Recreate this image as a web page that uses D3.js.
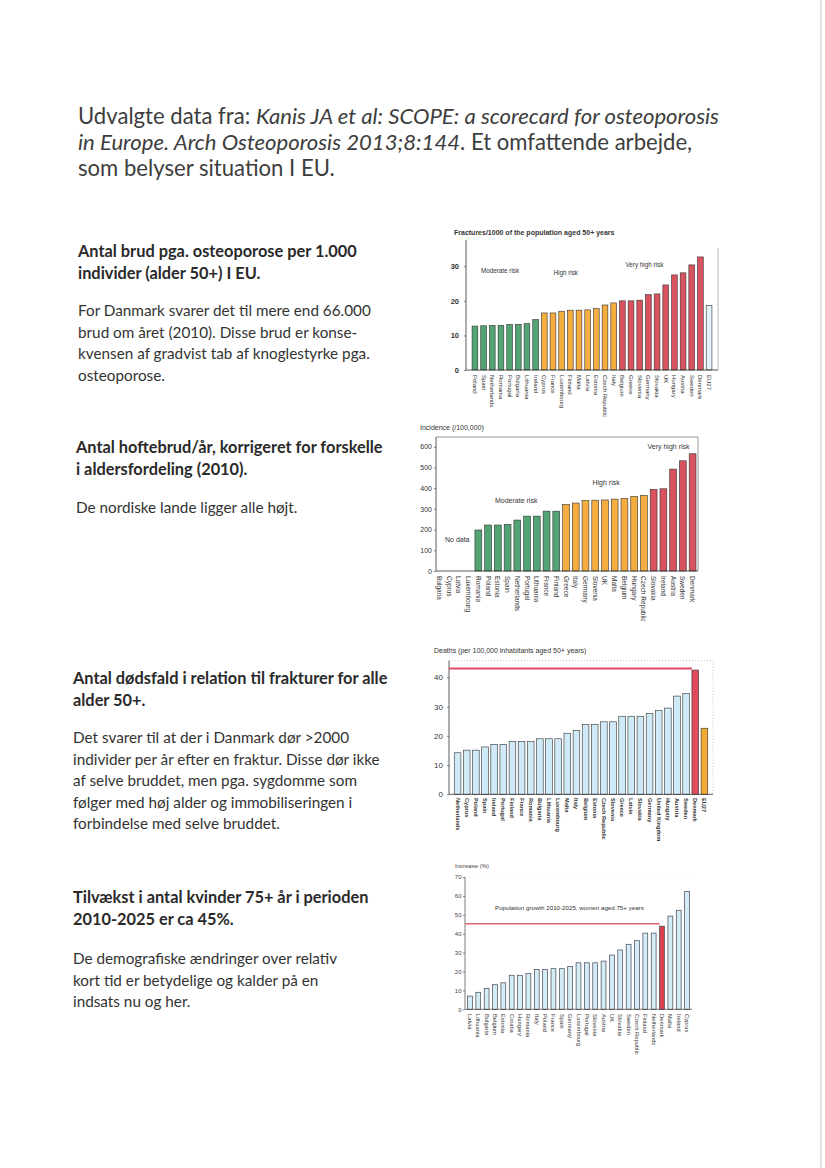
<!DOCTYPE html>
<html><head><meta charset="utf-8">
<script src="https://cdn.jsdelivr.net/npm/d3@7"></script>
<style>body{margin:0;background:#fff}svg{display:block}</style>
</head><body>
<svg id="page" width="825" height="1168"></svg>
<script>
// ---------- DATA ----------
const c1Countries = ["Poland","Spain","Netherlands","Romania","Portugal","Bulgaria","Lithuania","Ireland","Cyprus","France","Luxembourg","Finland","Malta","Latvia","Estonia","Czech Republic","Italy","Belgium","Greece","Slovenia","Germany","Slovakia","UK","Hungary","Austria","Sweden","Denmark","EU27"];
const c1Values = [12.7,12.8,12.9,12.9,13.2,13.2,13.4,14.6,16.5,16.5,17.0,17.3,17.3,17.4,17.8,18.8,19.4,20.0,20.0,20.2,21.8,22.0,24.6,27.5,28.1,30.4,32.7,18.6];
const c1Risk = ["m","m","m","m","m","m","m","m","h","h","h","h","h","h","h","h","h","v","v","v","v","v","v","v","v","v","v","eu"];
const c1Ticks = [0,10,20,30];

const c2Countries = ["Bulgaria","Cyprus","Latvia","Luxembourg","Romania","Poland","Estonia","Spain","Netherlands","Portugal","Lithuania","France","Finland","Greece","Italy","Germany","Slovenia","UK","Malta","Belgium","Hungary","Czech Republic","Slovakia","Ireland","Austria","Sweden","Denmark"];
const c2Values = [null,null,null,null,198,222,222,225,246,265,265,289,289,321,328,341,342,343,347,350,360,365,394,397,492,532,566];
const c2Risk = ["n","n","n","n","m","m","m","m","m","m","m","m","m","h","h","h","h","h","h","h","h","h","v","v","v","v","v"];
const c2Ticks = [0,100,200,300,400,500,600];

const c3Countries = ["Netherlands","Cyprus","Poland","Spain","Ireland","Portugal","Finland","France","Romania","Bulgaria","Lithuania","Luxembourg","Malta","Italy","Belgium","Estonia","Czech Republic","Slovenia","Greece","Latvia","Slovakia","Germany","United Kingdom","Hungary","Austria","Sweden","Denmark","EU27"];
const c3Values = [14.2,15.1,15.1,16.2,17.1,17.1,18.1,18.1,18.1,19.0,19.0,19.0,20.9,21.9,23.9,23.9,24.8,24.8,26.7,26.7,26.7,27.6,28.6,29.5,33.6,34.5,42.5,22.6];
const c3Highlight = {"Denmark":"dk","EU27":"eu"};
const c3RefLine = 43;
const c3Ticks = [0,10,20,30,40];

const c4Countries = ["Latvia","Lithuania","Bulgaria","Belgium","Estonia","Croatia","Hungary","Romania","Italy","Poland","France","Spain","Germany","Luxembourg","Portugal","Slovenia","Austria","UK","Slovakia","Sweden","Czech Republic","Finland","Netherlands","Denmark","Malta","Ireland","Cyprus"];
const c4Values = [7,9,11,13,14,18,18,19,21,21,21.5,21.5,22.7,24.6,24.6,24.6,25.5,28.7,31.4,34.4,36.3,40.3,40.3,44,49.3,52.4,62.3];
const c4RefLine = 45.3;
const c4Ticks = [0,10,20,30,40,50,60,70];

// ---------- PAGE ----------
const svg = d3.select("#page");
svg.append("rect").attr("width",825).attr("height",1168).attr("fill","#fff");
svg.append("line").attr("x1",821).attr("x2",821).attr("y1",0).attr("y2",1168).attr("stroke","#c8c8c8").attr("stroke-width",1);

const TXT = "Lato, 'Open Sans', sans-serif";
const CH = "'Liberation Sans', Arial, sans-serif";

// Heading
const heading = [
  [{t:"Udvalgte data fra: ",i:false},{t:"Kanis JA et al: SCOPE: a scorecard for osteoporosis",i:true}],
  [{t:"in Europe. Arch Osteoporosis 2013;8:144",i:true},{t:". Et omfattende arbejde,",i:false}],
  [{t:"som belyser situation I EU.",i:false}]
];
const headY = [115,141,167];
const headNodes = heading.map((parts,k)=>{
  const t = svg.append("text").attr("x",78).attr("y",headY[k]).attr("dominant-baseline","central")
    .attr("font-family",TXT).attr("font-size",21).attr("fill","#3d3d3d");
  parts.forEach(p=>t.append("tspan").attr("font-style",p.i?"italic":"normal").text(p.t));
  return t;
});
{
  const w = headNodes[0].node().getComputedTextLength();
  const fs = 21*641/w;
  headNodes.forEach(t=>t.attr("font-size",fs));
}

// Left paragraphs
const leftText = [
  {x:78,y:250,b:true,t:"Antal brud pga. osteoporose per 1.000"},
  {x:78,y:272,b:true,t:"individer (alder 50+) I EU."},
  {x:78,y:310,b:false,t:"For Danmark svarer det til mere end 66.000"},
  {x:78,y:332,b:false,t:"brud om året (2010). Disse brud er konse-"},
  {x:78,y:353,b:false,t:"kvensen af gradvist tab af knoglestyrke pga."},
  {x:78,y:375,b:false,t:"osteoporose."},
  {x:76,y:446,b:true,t:"Antal hoftebrud/år, korrigeret for forskelle"},
  {x:76,y:468,b:true,t:"i aldersfordeling (2010)."},
  {x:76,y:507,b:false,t:"De nordiske lande ligger alle højt."},
  {x:73,y:677,b:true,t:"Antal dødsfald i relation til frakturer for alle"},
  {x:73,y:699,b:true,t:"alder 50+."},
  {x:73,y:737,b:false,t:"Det svarer til at der i Danmark dør >2000"},
  {x:73,y:759,b:false,t:"individer per år efter en fraktur. Disse dør ikke"},
  {x:73,y:780,b:false,t:"af selve bruddet, men pga. sygdomme som"},
  {x:73,y:802,b:false,t:"følger med høj alder og immobiliseringen i"},
  {x:73,y:823,b:false,t:"forbindelse med selve bruddet."},
  {x:73,y:896,b:true,t:"Tilvækst i antal kvinder 75+ år i perioden"},
  {x:73,y:918,b:true,t:"2010-2025 er ca 45%."},
  {x:73,y:958,b:false,t:"De demografiske ændringer over relativ"},
  {x:73,y:980,b:false,t:"kort tid er betydelige og kalder på en"},
  {x:73,y:1001,b:false,t:"indsats nu og her."}
];
const leftNodes = leftText.map(d=>svg.append("text").attr("x",d.x).attr("y",d.y)
  .attr("dominant-baseline","central").attr("font-family",TXT).attr("font-size",15)
  .attr("font-weight",d.b?"bold":"normal").attr("fill",d.b?"#2a2a2a":"#333").text(d.t));
{
  const wb = leftNodes[0].node().getComputedTextLength();
  const wr = leftNodes[2].node().getComputedTextLength();
  const fb = 15*279/wb, fr = 15*293/wr;
  leftNodes.forEach((n,i)=>n.attr("font-size",leftText[i].b?fb:fr));
}

// ---------- CHART HELPERS ----------
function drawBars(cfg){
  const g = svg.append("g");
  const x = d3.scaleBand().domain(cfg.cats).range(cfg.xRange).paddingInner(cfg.pIn).paddingOuter(cfg.pOut);
  const y = d3.scaleLinear().domain(cfg.yDomain).range(cfg.yRange);
  const data = cfg.cats.map((c,i)=>({c,v:cfg.vals[i],i}));
  g.selectAll("rect.bar").data(data.filter(d=>d.v!=null)).join("rect").attr("class","bar")
    .attr("x",d=>x(d.c)).attr("width",x.bandwidth())
    .attr("y",d=>y(d.v)).attr("height",d=>y(0)-y(d.v))
    .attr("fill",d=>cfg.fill(d)).attr("stroke",cfg.stroke||"#333").attr("stroke-width",cfg.sw||0.6);
  const ax = g.append("g").attr("transform",`translate(${cfg.axisX},0)`)
    .call(d3.axisLeft(y).tickValues(cfg.ticks).tickSize(cfg.tickSize).tickPadding(cfg.tickPad).tickFormat(d3.format("d")));
  ax.select(".domain").remove();
  ax.selectAll("line").attr("stroke","#333").attr("stroke-width",0.6);
  ax.selectAll("text").attr("font-family",CH).attr("font-size",cfg.tickFont)
    .attr("font-weight",cfg.tickBold?"bold":"normal").attr("fill","#333");
  g.selectAll("text.cat").data(data).join("text").attr("class","cat")
    .attr("transform",d=>`translate(${x(d.c)+x.bandwidth()/2},${cfg.labelY}) rotate(90)`)
    .attr("dominant-baseline","central").attr("font-family",CH).attr("font-size",cfg.labelSize)
    .attr("font-weight",cfg.labelBold?"bold":"normal").attr("fill","#333").text(d=>d.c);
  return {g,x,y};
}
function line(g,x1,y1,x2,y2,stroke,sw,dash){
  const l = g.append("line").attr("x1",x1).attr("y1",y1).attr("x2",x2).attr("y2",y2)
    .attr("stroke",stroke).attr("stroke-width",sw);
  if(dash) l.attr("stroke-dasharray",dash);
  return l;
}
function label(g,x,y,t,size,opts={}){
  return g.append("text").attr("x",x).attr("y",y).attr("dominant-baseline","central")
    .attr("font-family",CH).attr("font-size",size).attr("font-weight",opts.bold?"bold":"normal")
    .attr("text-anchor",opts.anchor||"start").attr("fill",opts.fill||"#333").text(t);
}

const riskColor = {m:"#53a474", h:"#f5ad3f", v:"#d8525f", eu:"#e4f3fa", n:"none"};

// ---------- CHART 1 ----------
{
  const {g,x,y} = drawBars({cats:c1Countries, vals:c1Values, fill:d=>riskColor[c1Risk[d.i]],
    xRange:[466,718], pIn:0.34, pOut:0.7, yDomain:[0,37.6], yRange:[370,240],
    axisX:466, ticks:c1Ticks, tickSize:2, tickPad:5, tickFont:7.5, tickBold:true,
    labelY:375, labelSize:6, labelBold:false});
  line(g,466,240,466,370,"#333",0.8);
  line(g,466,370,718,370,"#333",0.8);
  line(g,718,248,718,370,"#888",0.6);
  label(g,454,232,"Fractures/1000 of the population aged 50+ years",7,{bold:true});
  label(g,481,270,"Moderate risk",6.3);
  label(g,553.5,272,"High risk",6.3);
  label(g,625.5,264,"Very high risk",6.3);
}

// ---------- CHART 2 ----------
{
  const {g,x,y} = drawBars({cats:c2Countries, vals:c2Values, fill:d=>riskColor[c2Risk[d.i]],
    xRange:[436,696], pIn:0.3, pOut:0, yDomain:[0,647], yRange:[571,437],
    axisX:436, ticks:c2Ticks, tickSize:2, tickPad:2, tickFont:7, tickBold:false,
    labelY:576, labelSize:6.5, labelBold:false});
  line(g,436,437,436,571,"#333",0.8);
  line(g,436,571,698,571,"#333",0.8);
  line(g,436,437,698,437,"#555",0.6);
  line(g,698,437,698,571,"#555",0.6);
  label(g,420,427,"Incidence (/100,000)",7);
  label(g,445,539.5,"No data",7);
  label(g,495,500,"Moderate risk",7);
  label(g,592.5,482.5,"High risk",7);
  label(g,647.5,446,"Very high risk",7);
}

// ---------- CHART 3 ----------
{
  const c3fill = d=>{const h=c3Highlight[d.c]; return h==="dk"?"#e04a5c":h==="eu"?"#f1aa34":"#cfeaf6";};
  const {g,x,y} = drawBars({cats:c3Countries, vals:c3Values, fill:c3fill,
    xRange:[449,713], pIn:0.27, pOut:0.575, yDomain:[0,45.7], yRange:[794.3,660.7],
    axisX:449, ticks:c3Ticks, tickSize:2, tickPad:4, tickFont:8, tickBold:false,
    labelY:798, labelSize:5.6, labelBold:true});
  line(g,449,660.7,713,660.7,"#8aa",0.6,"1,2");
  line(g,713,660.7,713,794.3,"#8aa",0.6,"1,2");
  line(g,449,660.7,449,794.3,"#333",0.8);
  line(g,449,794.3,713,794.3,"#333",0.8);
  line(g,449,y(c3RefLine),x("Denmark"),y(c3RefLine),"#e04a64",2);
  label(g,434,650,"Deaths (per 100,000 inhabitants aged 50+ years)",7);
}

// ---------- CHART 4 ----------
{
  const c4fill = d=>d.c==="Denmark"?"#d9404e":"#d3edf6";
  const {g,x,y} = drawBars({cats:c4Countries, vals:c4Values, fill:c4fill, stroke:"#445",sw:0.7,
    xRange:[465,692], pIn:0.42, pOut:0.3, yDomain:[0,70], yRange:[1009.3,877],
    axisX:465, ticks:c4Ticks, tickSize:2, tickPad:1.5, tickFont:6, tickBold:false,
    labelY:1014, labelSize:5.8, labelBold:false});
  g.selectAll("g.tick text").attr("fill","#444");
  line(g,465,877,465,1009.3,"#444",0.7);
  line(g,465,1009.3,692,1009.3,"#444",0.7);
  line(g,465,877,692,877,"#ccc",0.5,"1,3");
  line(g,465,y(c4RefLine),x("Denmark"),y(c4RefLine),"#e06478",1.4);
  label(g,455,866,"Increase (%)",6,{fill:"#444"});
  label(g,495,907,"Population growth 2010-2025, women aged 75+ years",6.2,{fill:"#333"});
}
</script>
</body></html>
